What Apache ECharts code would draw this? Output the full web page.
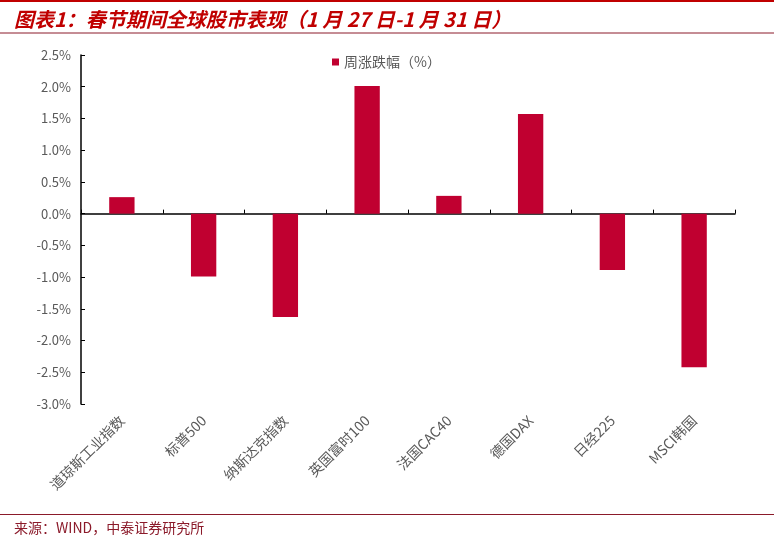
<!DOCTYPE html>
<html>
<head>
<meta charset="utf-8">
<script src="https://cdn.jsdelivr.net/npm/echarts@6/dist/echarts.min.js"></script>
<style>
  html, body { margin: 0; padding: 0; background: #fff; }
  #main { width: 774px; height: 538px; }
</style>
</head>
<body>
<div id="main"></div>
<script>
var categories = ['道琼斯工业指数', '标普500', '纳斯达克指数', '英国富时100', '法国CAC40', '德国DAX', '日经225', 'MSCI韩国'];
var weeklyChange = [0.26, -0.99, -1.63, 2.01, 0.28, 1.57, -0.89, -2.42];
var seriesName = '周涨跌幅（%）';

var font = '"Noto Sans CJK SC", "Noto Sans", sans-serif';
var grey = '#595959';

var option = {
  backgroundColor: '#fff',
  animation: false,
  title: [{
    text: '图表1：春节期间全球股市表现（1 月 27 日-1 月 31 日）',
    left: 9,
    top: 4,
    textStyle: {
      color: '#C00000',
      fontSize: 20,
      fontStyle: 'italic',
      fontWeight: 'bold',
      fontFamily: font
    }
  }, {
    text: '来源：WIND，中泰证券研究所',
    left: 9,
    top: 516,
    textStyle: {
      color: '#8B1A2A',
      fontSize: 14,
      fontWeight: 'normal',
      fontFamily: font
    }
  }],
  graphic: [
    { type: 'line', shape: { x1: 0, y1: 1, x2: 774, y2: 1 }, style: { stroke: '#C00000', lineWidth: 2 } },
    { type: 'line', shape: { x1: 0, y1: 33, x2: 774, y2: 33 }, style: { stroke: '#8B1A2A', lineWidth: 1 } },
    { type: 'line', shape: { x1: 0, y1: 514.5, x2: 774, y2: 514.5 }, style: { stroke: '#8B1A2A', lineWidth: 1 } }
  ],
  legend: {
    data: [seriesName],
    left: 327,
    top: 50,
    icon: 'rect',
    itemWidth: 7,
    itemHeight: 7,
    itemGap: 6,
    textStyle: { color: grey, fontSize: 14, fontFamily: font }
  },
  grid: { left: 81, right: 39, top: 55, bottom: 134 },
  xAxis: [{
    type: 'category',
    data: categories,
    position: 'bottom',
    axisLine: { show: false, onZero: false },
    axisTick: { show: false },
    axisLabel: {
      rotate: 45,
      color: grey,
      fontSize: 14,
      fontFamily: font,
      margin: 14,
      interval: 0
    }
  }, {
    type: 'category',
    data: categories,
    position: 'bottom',
    axisLine: { show: true, onZero: true, lineStyle: { color: '#000', width: 1.5 } },
    axisTick: { show: true, inside: true, interval: 0, length: 4, lineStyle: { color: '#000' } },
    axisLabel: { show: false }
  }],
  yAxis: {
    type: 'value',
    min: -3,
    max: 2.5,
    interval: 0.5,
    splitLine: { show: false },
    axisLine: { show: true, lineStyle: { color: '#000', width: 1.5 } },
    axisTick: { show: true, inside: true, length: 4, lineStyle: { color: '#000' } },
    axisLabel: {
      color: grey,
      fontSize: 13,
      fontFamily: font,
      margin: 10,
      formatter: function (v) { return v.toFixed(1) + '%'; }
    }
  },
  series: [{
    name: seriesName,
    type: 'bar',
    xAxisIndex: 0,
    data: weeklyChange,
    barWidth: '31%',
    itemStyle: { color: '#C00030' }
  }]
};

var chart = echarts.init(document.getElementById('main'));
chart.setOption(option);
</script>
</body>
</html>
